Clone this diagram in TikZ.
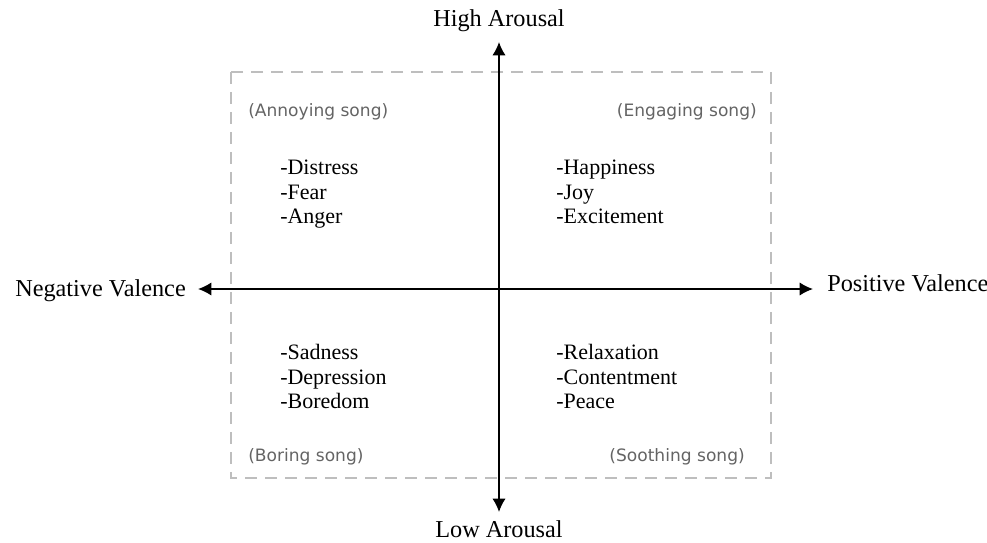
\documentclass[tikz,border=0pt]{standalone}
\usepackage{fontspec}
\setmainfont{Liberation Serif}
\newfontfamily\songfont{DejaVu Sans}
\usetikzlibrary{arrows.meta}
\definecolor{boxgray}{RGB}{190,190,190}
\definecolor{songgray}{RGB}{100,100,100}
\tikzset{
  axis/.style={line width=1.3pt,{Latex[length=10pt,width=10pt]}-{Latex[length=10pt,width=10pt]}},
  axislabel/.style={inner sep=0pt,font=\fontsize{18.2}{20}\selectfont},
  quadbox/.style={draw=boxgray,line width=1.4pt,dash pattern=on 9pt off 6pt},
  songlabel/.style={inner sep=0pt,text=songgray,font=\songfont\fontsize{12.8}{14}\selectfont},
  emolist/.style={inner sep=0pt,align=left,anchor=north west,font=\fontsize{16.5}{18.4}\selectfont}
}
\begin{document}
\begin{tikzpicture}[x=0.75pt,y=-0.75pt]
  \useasboundingbox (0,0) rectangle (987,542);
  \draw[quadbox] (231,72) rectangle (771,478);
  \coordinate (ntip) at (499,42);
  \coordinate (stip) at (499,512);
  \coordinate (wtip) at (198,289);
  \coordinate (etip) at (813,289);
  \draw[axis] (ntip) -- (stip);
  \draw[axis] (wtip) -- (etip);
  \node[axislabel,anchor=base] (high) at (499,27) {High Arousal};
  \node[axislabel,anchor=base] (low) at (499,537) {Low Arousal};
  \node[axislabel,anchor=base east] (neg) at (186,296) {Negative Valence};
  \node[axislabel,anchor=base west] (pos) at (827,291) {Positive Valence};
  \node[songlabel,anchor=west] (annoying) at (248,112) {(Annoying song)};
  \node[songlabel,anchor=east] (engaging) at (757,112) {(Engaging song)};
  \node[songlabel,anchor=west] (boring) at (248,457) {(Boring song)};
  \node[songlabel,anchor=east] (soothing) at (745,457) {(Soothing song)};
  \node[emolist] (nwlist) at (280,160) {-Distress\\-Fear\\-Anger};
  \node[emolist] (nelist) at (556,160) {-Happiness\\-Joy\\-Excitement};
  \node[emolist] (swlist) at (280,344) {-Sadness\\-Depression\\-Boredom};
  \node[emolist] (selist) at (556,344) {-Relaxation\\-Contentment\\-Peace};
\end{tikzpicture}
\end{document}
